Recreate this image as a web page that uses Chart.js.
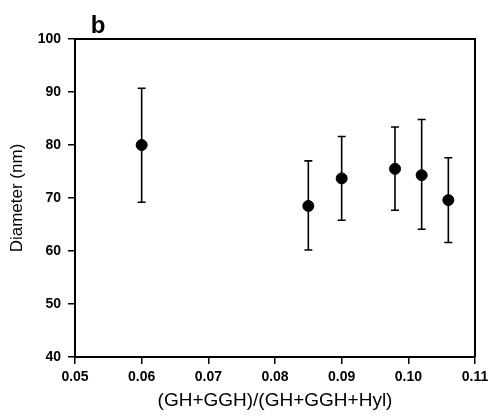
<!DOCTYPE html>
<html>
<head>
<meta charset="utf-8">
<script src="https://cdn.jsdelivr.net/npm/chart.js@4.4.0/dist/chart.umd.min.js"></script>
<style>
html,body{margin:0;padding:0;background:#fff;}
#wrap{width:490px;height:419px;}
</style>
</head>
<body>
<div id="wrap"><canvas id="c" width="490" height="419"></canvas></div>
<script>
// Data
const xValues = [0.06, 0.085, 0.09, 0.098, 0.102, 0.106];
const meanDiameter = [80.0, 68.5, 73.7, 75.5, 74.3, 69.6];
const upperBar = [90.7, 77.0, 81.6, 83.4, 84.8, 77.6];
const lowerBar = [69.2, 60.2, 65.8, 67.7, 64.1, 61.6];
const xTicks = [0.05, 0.06, 0.07, 0.08, 0.09, 0.10, 0.11];
const yTicks = [40, 50, 60, 70, 80, 90, 100];
const panelLabel = 'b';
const xTitle = '(GH+GGH)/(GH+GGH+Hyl)';
const yTitle = 'Diameter (nm)';

const FONT = "'Liberation Sans', Arial, Helvetica, sans-serif";

const errorBars = {
  id: 'errorBars',
  afterDatasetsDraw(chart) {
    const ctx = chart.ctx, xs = chart.scales.x, ys = chart.scales.y;
    ctx.save();
    ctx.strokeStyle = '#000';
    ctx.lineWidth = 1.6;
    xValues.forEach((xv, i) => {
      const px = xs.getPixelForValue(xv);
      const pu = ys.getPixelForValue(upperBar[i]);
      const pl = ys.getPixelForValue(lowerBar[i]);
      ctx.beginPath();
      ctx.moveTo(px, pu); ctx.lineTo(px, pl);
      ctx.moveTo(px - 4, pu); ctx.lineTo(px + 4, pu);
      ctx.moveTo(px - 4, pl); ctx.lineTo(px + 4, pl);
      ctx.stroke();
    });
    ctx.restore();
  }
};

const frame = {
  id: 'frame',
  afterDraw(chart) {
    const ctx = chart.ctx, a = chart.chartArea;
    ctx.save();
    ctx.strokeStyle = '#000';
    ctx.lineWidth = 2;
    ctx.beginPath();
    ctx.moveTo(a.left, a.top); ctx.lineTo(a.right, a.top); ctx.lineTo(a.right, a.bottom);
    ctx.stroke();
    ctx.fillStyle = '#000';
    ctx.font = "bold 24px " + FONT;
    ctx.textAlign = 'center';
    ctx.textBaseline = 'alphabetic';
    ctx.fillText(panelLabel, a.left + 23, a.top - 6);
    ctx.restore();
  }
};

new Chart(document.getElementById('c'), {
  type: 'scatter',
  data: {
    datasets: [{
      data: xValues.map((x, i) => ({x: x, y: meanDiameter[i]})),
      backgroundColor: '#000',
      borderColor: '#000',
      pointRadius: 5.5,
      pointHoverRadius: 5.5,
      showLine: false
    }]
  },
  options: {
    responsive: false,
    animation: false,
    devicePixelRatio: 1,
    layout: {padding: {top: 39, right: 15, bottom: 0, left: 0}},
    plugins: {legend: {display: false}, tooltip: {enabled: false}, title: {display: false}},
    scales: {
      x: {
        type: 'linear',
        min: 0.05, max: 0.11,
        afterBuildTicks(scale) { scale.ticks = xTicks.map(v => ({value: v})); },
        afterFit(scale) { scale.height = 62; scale.paddingRight = 0; scale.paddingLeft = 0; },
        ticks: {
          color: '#000', padding: 5,
          font: {family: FONT, size: 14, weight: 'bold'},
          callback: v => v.toFixed(2),
          maxRotation: 0, autoSkip: false
        },
        grid: {drawOnChartArea: false, drawTicks: true, tickLength: 7, color: '#000', lineWidth: 1.5},
        border: {display: true, color: '#000', width: 2},
        title: {display: true, text: xTitle, color: '#000', font: {family: FONT, size: 19}, padding: {top: 0, bottom: 7}}
      },
      y: {
        type: 'linear',
        min: 40, max: 100,
        afterBuildTicks(scale) { scale.ticks = yTicks.map(v => ({value: v})); },
        afterFit(scale) { scale.width = 75; scale.paddingTop = 0; scale.paddingBottom = 0; },
        ticks: {
          color: '#000', padding: 7,
          font: {family: FONT, size: 14, weight: 'bold'},
          autoSkip: false
        },
        grid: {drawOnChartArea: false, drawTicks: true, tickLength: 7, color: '#000', lineWidth: 1.5},
        border: {display: true, color: '#000', width: 2},
        title: {display: true, text: yTitle, color: '#000', font: {family: FONT, size: 17}, padding: {top: 7, bottom: 0}}
      }
    }
  },
  plugins: [errorBars, frame]
});
</script>
</body>
</html>
